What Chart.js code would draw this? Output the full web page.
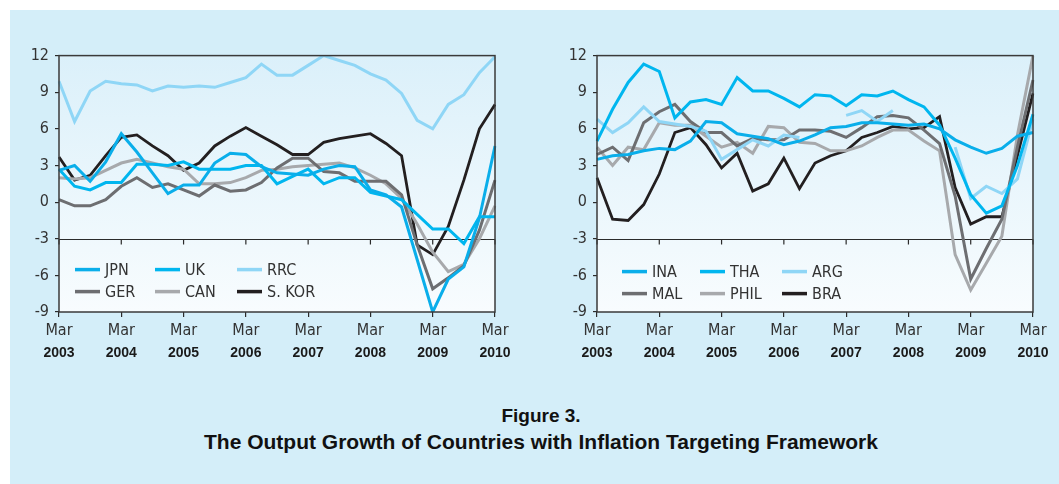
<!DOCTYPE html>
<html>
<head>
<meta charset="utf-8">
<script src="https://cdn.jsdelivr.net/npm/chart.js@4.4.1/dist/chart.umd.min.js"></script>
<style>
html, body { margin: 0; padding: 0; background: #fff; overflow: hidden; width: 1059px; height: 484px; }
#panel { position: absolute; left: 10px; top: 10px; width: 1049px; height: 474px; background: #d4eef9; }
canvas { position: absolute; }
#c1 { left: 10px; top: 40px; }
#c2 { left: 548px; top: 40px; }
.title { position: absolute; left: 0; width: 1082px; text-align: center;
  font-family: "Liberation Sans", Arial, sans-serif; font-weight: bold; color: #111; white-space: nowrap; }
#t1 { top: 404px; font-size: 19px; line-height: 24px; }
#t2 { top: 430px; font-size: 21px; line-height: 24px; }
</style>
</head>
<body>
<div id="panel"></div>
<canvas id="c1" width="520" height="330"></canvas>
<canvas id="c2" width="511" height="330"></canvas>
<div class="title" id="t1">Figure 3.</div>
<div class="title" id="t2">The Output Growth of Countries with Inflation Targeting Framework</div>
<script>
// quarterly, Mar 2003 .. Mar 2010
const quarterLabels = [
  'Mar 2003','Jun 2003','Sep 2003','Dec 2003',
  'Mar 2004','Jun 2004','Sep 2004','Dec 2004',
  'Mar 2005','Jun 2005','Sep 2005','Dec 2005',
  'Mar 2006','Jun 2006','Sep 2006','Dec 2006',
  'Mar 2007','Jun 2007','Sep 2007','Dec 2007',
  'Mar 2008','Jun 2008','Sep 2008','Dec 2008',
  'Mar 2009','Jun 2009','Sep 2009','Dec 2009',
  'Mar 2010'
];
const yTicks = [-9, -6, -3, 0, 3, 6, 9, 12];

// left panel
const jpn  = [2.6, 3.0, 1.7, 3.3, 5.6, 4.1, 2.4, 0.7, 1.4, 1.4, 3.2, 4.0, 3.9, 2.9, 2.4, 2.3, 2.2, 2.7, 3.0, 2.9, 1.0, 0.6, -0.4, -4.7, -9.0, -6.3, -5.3, -1.3, 4.6];
const uk   = [2.7, 1.3, 1.0, 1.6, 1.6, 3.1, 3.1, 3.0, 3.3, 2.7, 2.7, 2.7, 3.0, 3.0, 1.5, 2.1, 2.7, 1.5, 2.0, 2.0, 0.8, 0.5, 0.2, -1.0, -2.2, -2.2, -3.4, -1.2, -1.2];
const rrc  = [9.9, 6.6, 9.1, 9.9, 9.7, 9.6, 9.1, 9.5, 9.4, 9.5, 9.4, 9.8, 10.2, 11.3, 10.4, 10.4, 11.2, 12.0, 11.6, 11.2, 10.5, 10.0, 8.9, 6.7, 6.0, 8.0, 8.8, 10.6, 11.9];
const ger  = [0.2, -0.3, -0.3, 0.2, 1.3, 2.0, 1.2, 1.5, 1.0, 0.5, 1.4, 0.9, 1.0, 1.6, 2.8, 3.6, 3.6, 2.5, 2.4, 1.7, 1.7, 1.7, 0.6, -3.5, -7.1, -6.2, -5.2, -2.3, 1.8];
const can  = [2.0, 1.9, 2.0, 2.6, 3.2, 3.5, 3.2, 2.9, 2.7, 1.5, 1.5, 1.6, 2.0, 2.6, 2.7, 2.9, 3.0, 3.1, 3.2, 2.8, 2.2, 1.5, 0.3, -1.8, -4.1, -5.7, -5.1, -3.0, -0.3];
const skor = [3.7, 1.8, 2.2, 3.8, 5.3, 5.5, 4.6, 3.8, 2.6, 3.2, 4.6, 5.4, 6.1, 5.4, 4.7, 3.9, 3.9, 4.9, 5.2, 5.4, 5.6, 4.8, 3.8, -3.5, -4.3, -2.0, 1.8, 6.0, 8.0];

// right panel
const ina  = [3.5, 3.8, 3.9, 4.2, 4.4, 4.3, 5.0, 6.6, 6.5, 5.6, 5.4, 5.2, 4.7, 5.0, 5.5, 6.1, 6.2, 6.5, 6.5, 6.4, 6.3, 6.4, 6.0, 5.1, 4.5, 4.0, 4.4, 5.4, 5.7];
const tha  = [5.0, 7.6, 9.8, 11.3, 10.7, 6.9, 8.2, 8.4, 8.0, 10.2, 9.1, 9.1, 8.5, 7.8, 8.8, 8.7, 7.9, 8.8, 8.7, 9.1, 8.4, 7.8, 6.3, 3.6, 0.6, -0.9, -0.3, 3.0, 7.2];
const arg  = [6.8, 5.7, 6.5, 7.8, 6.6, 6.4, 6.2, 5.8, 3.5, 4.3, 5.1, 4.6, 5.5, 5.3, null, null, 7.1, 7.5, 6.6, 7.5, null, null, null, 4.5, 0.3, 1.3, 0.7, 1.9, 6.8];
const mal  = [3.9, 4.5, 3.4, 6.5, 7.4, 8.0, 6.6, 5.7, 5.7, 4.6, 5.2, 5.1, 5.1, 5.9, 5.9, 5.8, 5.3, 6.1, 7.0, 7.1, 6.9, 5.9, 4.8, 0.5, -6.3, -3.8, -1.4, 4.5, 10.0];
const phil = [4.5, 3.0, 4.5, 4.3, 6.5, 6.3, 6.3, 5.4, 4.5, 4.9, 4.0, 6.2, 6.1, 4.9, 4.8, 4.2, 4.2, 4.6, 5.3, 5.9, 5.9, 5.0, 4.2, -4.3, -7.2, -5.0, -2.8, 5.5, 12.0];
const bra  = [2.0, -1.4, -1.5, -0.2, 2.3, 5.7, 6.1, 4.7, 2.8, 4.0, 0.9, 1.5, 3.6, 1.1, 3.2, 3.8, 4.2, 5.3, 5.7, 6.2, 6.0, 6.1, 7.0, 1.2, -1.8, -1.2, -1.2, 3.8, 8.9];

const tickFont = '"Liberation Sans Narrow", "DejaVu Sans Condensed", "Open Sans", sans-serif';
const ink = '#333333';

// plot background, -3 line and the frame
const frame = {
  id: 'frame',
  beforeDraw(chart) {
    const { ctx, chartArea: a } = chart;
    const g = ctx.createLinearGradient(0, a.top, 0, a.bottom);
    g.addColorStop(0, '#dbf0fa');
    g.addColorStop(1, '#f8fcfe');
    ctx.save();
    ctx.fillStyle = g;
    ctx.fillRect(a.left, a.top, a.width, a.height);
    ctx.restore();
  },
  beforeDatasetsDraw(chart) {
    const { ctx, chartArea: a, scales } = chart;
    const y = Math.round(scales.y.getPixelForValue(-3)) + 0.5;
    ctx.save();
    ctx.strokeStyle = '#2b2b2b';
    ctx.lineWidth = 1.2;
    ctx.beginPath();
    ctx.moveTo(a.left, y);
    ctx.lineTo(a.right, y);
    quarterLabels.forEach((q, i) => {
      if (i % 4 === 0) {
        const x = scales.x.getPixelForValue(i);
        ctx.moveTo(x, y);
        ctx.lineTo(x, y + 5);
      }
    });
    ctx.stroke();
    ctx.restore();
  },
  afterDraw(chart) {
    const { ctx, chartArea: a } = chart;
    ctx.save();
    ctx.strokeStyle = '#3a3a3a';
    ctx.lineWidth = 1.5;
    ctx.strokeRect(a.left, a.top, a.width, a.height);
    ctx.restore();
  }
};

// legend drawn inside the plot, 3 columns x 2 rows
const innerLegend = {
  id: 'innerLegend',
  afterDraw(chart, args, opts) {
    const { ctx, chartArea: a } = chart;
    ctx.save();
    ctx.font = '16px ' + tickFont;
    ctx.textBaseline = 'middle';
    chart.data.datasets.forEach((ds, i) => {
      const x = a.left + opts.cols[i % 3];
      const y = a.top + opts.rows[Math.floor(i / 3)];
      ctx.strokeStyle = ds.borderColor;
      ctx.lineWidth = 3.5;
      ctx.beginPath();
      ctx.moveTo(x, y);
      ctx.lineTo(x + 25, y);
      ctx.stroke();
      ctx.fillStyle = ink;
      ctx.fillText(ds.label, x + 30, y + 1);
    });
    ctx.restore();
  }
};

function makeChart(id, series, padRight, legendCols, legendRows) {
  return new Chart(document.getElementById(id), {
    type: 'line',
    data: {
      labels: quarterLabels,
      datasets: series.map(s => ({
        label: s.label,
        data: s.data,
        borderColor: s.color,
        borderWidth: s.width || 3,
        pointRadius: 0,
        tension: 0,
        spanGaps: false,
        fill: false
      }))
    },
    options: {
      responsive: false,
      animation: false,
      devicePixelRatio: 1,
      layout: { padding: { top: 14, right: padRight, bottom: 6, left: 0 } },
      plugins: {
        legend: { display: false },
        tooltip: { enabled: false },
        innerLegend: { cols: legendCols, rows: legendRows }
      },
      scales: {
        x: {
          type: 'category',
          offset: false,
          weight: 0,
          afterFit: s => { s.height = 30; },
          border: { display: false },
          grid: {
            drawOnChartArea: false,
            tickLength: 5,
            lineWidth: 1.2,
            color: c => (c.index % 4 === 0 ? '#2b2b2b' : 'rgba(0,0,0,0)')
          },
          ticks: {
            autoSkip: false,
            maxRotation: 0,
            padding: 4,
            color: ink,
            font: { family: tickFont, size: 16 },
            callback: (v, i) => (i % 4 === 0 ? 'Mar' : '')
          }
        },
        x2: {
          type: 'category',
          position: 'bottom',
          offset: false,
          weight: 1,
          afterFit: s => { s.height = 22; },
          border: { display: false },
          grid: { display: false, drawTicks: false },
          ticks: {
            autoSkip: false,
            maxRotation: 0,
            padding: 3,
            color: '#1a1a1a',
            font: { family: '"Liberation Sans", Arial, sans-serif', size: 14, weight: 'bold' },
            callback: (v, i) => (i % 4 === 0 ? quarterLabels[i].slice(4) : '')
          }
        },
        y: {
          min: yTicks[0],
          max: yTicks[yTicks.length - 1],
          afterFit: s => { s.width = 49; },
          afterBuildTicks: s => { s.ticks = yTicks.map(v => ({ value: v })); },
          border: { display: false },
          grid: { drawOnChartArea: false, tickLength: 4, color: '#2b2b2b', lineWidth: 1.2 },
          ticks: {
            padding: 6,
            color: ink,
            font: { family: tickFont, size: 16 }
          }
        }
      }
    },
    plugins: [frame, innerLegend]
  });
}

makeChart('c1', [
  { label: 'JPN', data: jpn, color: '#0aaeea' },
  { label: 'UK', data: uk, color: '#00b6ef' },
  { label: 'RRC', data: rrc, color: '#8fd6f6' },
  { label: 'GER', data: ger, color: '#6d6e71' },
  { label: 'CAN', data: can, color: '#a7a9ac' },
  { label: 'S. KOR', data: skor, color: '#231f20', width: 2.8 }
], 35, [16, 96, 178], [214, 236]);

makeChart('c2', [
  { label: 'INA', data: ina, color: '#0aaeea' },
  { label: 'THA', data: tha, color: '#00b6ef' },
  { label: 'ARG', data: arg, color: '#8fd6f6' },
  { label: 'MAL', data: mal, color: '#6d6e71' },
  { label: 'PHIL', data: phil, color: '#a7a9ac' },
  { label: 'BRA', data: bra, color: '#231f20', width: 2.8 }
], 26, [25, 103, 185], [216, 238]);
</script>
</body>
</html>
